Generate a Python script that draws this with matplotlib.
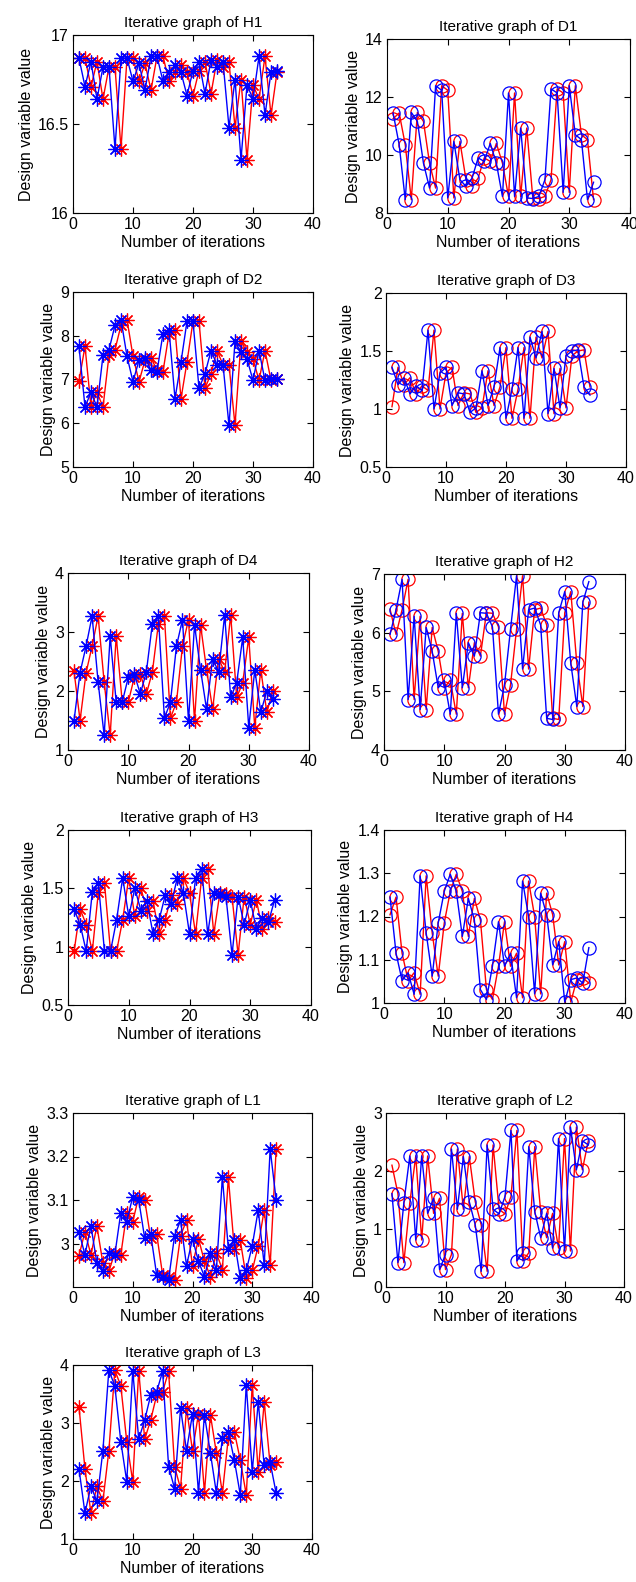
import matplotlib
matplotlib.use("Agg")
import matplotlib.pyplot as plt
from matplotlib.ticker import FormatStrFormatter

plt.rcParams['font.family'] = ['Liberation Sans', 'DejaVu Sans']
plt.rcParams['font.size'] = 11

# blue = current value, red = value of the previous iteration
H1_blue = [16.87, 16.71, 16.85, 16.64, 16.82, 16.82, 16.36, 16.87, 16.87, 16.74, 16.84, 16.69, 16.88, 16.88, 16.74, 16.79, 16.83,
           16.79, 16.66, 16.80, 16.85, 16.67, 16.86, 16.82, 16.85, 16.48, 16.75, 16.30, 16.72, 16.64, 16.88, 16.55, 16.79, 16.80]
H1_red = [16.87, 16.87, 16.71, 16.85, 16.64, 16.82, 16.82, 16.36, 16.87, 16.87, 16.74, 16.84, 16.69, 16.88, 16.88, 16.74, 16.79,
          16.83, 16.79, 16.66, 16.80, 16.85, 16.67, 16.86, 16.82, 16.85, 16.48, 16.75, 16.30, 16.72, 16.64, 16.88, 16.55, 16.79]

D1_blue = [11.45, 10.36, 8.46, 11.47, 11.16, 9.72, 8.86, 12.39, 12.23, 8.52, 10.47, 9.15, 8.92, 9.20, 9.90, 9.78, 10.40,
           9.72, 8.57, 12.14, 8.57, 10.93, 8.52, 8.50, 8.57, 9.15, 12.28, 12.14, 8.71, 12.39, 10.70, 10.53, 8.46, 9.06]
D1_red = [11.25, 11.45, 10.36, 8.46, 11.47, 11.16, 9.72, 8.86, 12.39, 12.23, 8.52, 10.47, 9.15, 8.92, 9.20, 9.90, 9.78,
          10.40, 9.72, 8.57, 12.14, 8.57, 10.93, 8.52, 8.50, 8.57, 9.15, 12.28, 12.14, 8.71, 12.39, 10.70, 10.53, 8.46]

D2_blue = [7.76, 6.37, 6.71, 6.37, 7.55, 7.68, 8.24, 8.37, 7.53, 6.95, 7.44, 7.50, 7.21, 7.18, 8.05, 8.14, 6.56,
           7.40, 8.33, 8.33, 6.80, 7.13, 7.66, 7.34, 7.34, 5.95, 7.87, 7.63, 7.47, 6.98, 7.66, 6.98, 7.02, 7.02]
D2_red = [6.96, 7.76, 6.37, 6.71, 6.37, 7.55, 7.68, 8.24, 8.37, 7.53, 6.95, 7.44, 7.50, 7.21, 7.18, 8.05, 8.14,
          6.56, 7.40, 8.33, 8.33, 6.80, 7.13, 7.66, 7.34, 7.34, 5.95, 7.87, 7.63, 7.47, 6.98, 7.66, 6.98, 7.02]

D3_blue = [1.36, 1.21, 1.27, 1.13, 1.20, 1.16, 1.68, 1.00, 1.31, 1.36, 1.03, 1.14, 1.13, 0.97, 1.01, 1.33, 1.03,
           1.19, 1.53, 0.92, 1.17, 1.53, 0.92, 1.62, 1.44, 1.67, 0.96, 1.35, 1.01, 1.46, 1.50, 1.51, 1.19, 1.12]
D3_red = [1.02, 1.36, 1.21, 1.27, 1.13, 1.20, 1.16, 1.68, 1.00, 1.31, 1.36, 1.03, 1.14, 1.13, 0.97, 1.01, 1.33,
          1.03, 1.19, 1.53, 0.92, 1.17, 1.53, 0.92, 1.62, 1.44, 1.67, 0.96, 1.35, 1.01, 1.46, 1.50, 1.51, 1.19]

D4_blue = [1.50, 2.31, 2.76, 3.27, 2.15, 1.25, 2.93, 1.81, 1.81, 2.23, 2.29, 1.95, 2.32, 3.14, 3.27, 1.54, 1.81,
           2.76, 3.21, 1.49, 3.12, 2.36, 1.69, 2.55, 2.32, 3.29, 1.89, 2.14, 2.91, 1.38, 2.36, 1.64, 2.00, 1.87]
D4_red = [2.34, 1.50, 2.31, 2.76, 3.27, 2.15, 1.25, 2.93, 1.81, 1.81, 2.23, 2.29, 1.95, 2.32, 3.14, 3.27, 1.54,
          1.81, 2.76, 3.21, 1.49, 3.12, 2.36, 1.69, 2.55, 2.32, 3.29, 1.89, 2.14, 2.91, 1.38, 2.36, 1.64, 2.00]

H2_blue = [5.97, 6.39, 6.91, 4.86, 6.28, 4.69, 6.09, 5.68, 5.06, 5.19, 4.61, 6.33, 5.06, 5.83, 5.60, 6.34, 6.33,
           6.10, 4.61, 5.11, 6.06, 6.97, 5.38, 6.39, 6.42, 6.13, 4.54, 4.52, 6.34, 6.70, 5.48, 4.74, 6.52, 6.87]
H2_red = [6.40, 5.97, 6.39, 6.91, 4.86, 6.28, 4.69, 6.09, 5.68, 5.06, 5.19, 4.61, 6.33, 5.06, 5.83, 5.60, 6.34,
          6.33, 6.10, 4.61, 5.11, 6.06, 6.97, 5.38, 6.39, 6.42, 6.13, 4.54, 4.52, 6.34, 6.70, 5.48, 4.74, 6.52]

H3_blue = [1.32, 1.19, 0.96, 1.47, 1.55, 0.96, 0.96, 1.23, 1.59, 1.26, 1.50, 1.31, 1.39, 1.11, 1.23, 1.44, 1.37,
           1.59, 1.46, 1.11, 1.59, 1.67, 1.11, 1.46, 1.45, 1.43, 0.93, 1.43, 1.19, 1.40, 1.15, 1.25, 1.21, 1.40]
H3_red = [0.96, 1.32, 1.19, 0.96, 1.47, 1.55, 0.96, 0.96, 1.23, 1.59, 1.26, 1.50, 1.31, 1.39, 1.11, 1.23, 1.44,
          1.37, 1.59, 1.46, 1.11, 1.59, 1.67, 1.11, 1.46, 1.45, 1.43, 0.93, 1.43, 1.19, 1.40, 1.15, 1.25, 1.21]

H4_blue = [1.245, 1.115, 1.052, 1.070, 1.020, 1.294, 1.162, 1.062, 1.185, 1.258, 1.298, 1.258, 1.154, 1.242, 1.192, 1.031, 1.008,
           1.085, 1.188, 1.085, 1.115, 1.012, 1.282, 1.200, 1.021, 1.254, 1.204, 1.088, 1.142, 1.002, 1.054, 1.058, 1.046, 1.128]
H4_red = [1.204, 1.245, 1.115, 1.052, 1.070, 1.020, 1.294, 1.162, 1.062, 1.185, 1.258, 1.298, 1.258, 1.154, 1.242, 1.192, 1.031,
          1.008, 1.085, 1.188, 1.085, 1.115, 1.012, 1.282, 1.200, 1.021, 1.254, 1.204, 1.088, 1.142, 1.002, 1.054, 1.058, 1.046]

L1_blue = [3.027, 2.974, 3.040, 2.955, 2.936, 2.979, 2.974, 3.071, 3.050, 3.108, 3.100, 3.012, 3.022, 2.928, 2.924, 2.917, 3.018,
           3.053, 2.949, 3.011, 2.959, 2.924, 2.978, 2.940, 3.152, 2.988, 3.007, 2.921, 2.938, 2.995, 3.077, 2.951, 3.217, 3.100]
L1_red = [2.972, 3.027, 2.974, 3.040, 2.955, 2.936, 2.979, 2.974, 3.071, 3.050, 3.108, 3.100, 3.012, 3.022, 2.928, 2.924, 2.917,
          3.018, 3.053, 2.949, 3.011, 2.959, 2.924, 2.978, 2.940, 3.152, 2.988, 3.007, 2.921, 2.938, 2.995, 3.077, 2.951, 3.217]

L2_blue = [1.61, 0.42, 1.45, 2.26, 0.81, 2.26, 1.27, 1.53, 0.30, 0.56, 2.38, 1.34, 2.25, 1.47, 1.07, 0.27, 2.45,
           1.34, 1.26, 1.56, 2.70, 0.45, 0.59, 2.42, 1.30, 0.85, 1.27, 0.67, 2.56, 0.62, 2.76, 2.02, 2.52, 2.45]
L2_red = [2.10, 1.61, 0.42, 1.45, 2.26, 0.81, 2.26, 1.27, 1.53, 0.30, 0.56, 2.38, 1.34, 2.25, 1.47, 1.07, 0.27,
          2.45, 1.34, 1.26, 1.56, 2.70, 0.45, 0.59, 2.42, 1.30, 0.85, 1.27, 0.67, 2.56, 0.62, 2.76, 2.02, 2.52]

L3_blue = [2.21, 1.45, 1.91, 1.65, 2.52, 3.91, 3.64, 2.68, 1.99, 3.90, 2.72, 3.05, 3.48, 3.54, 3.89, 2.25, 1.87,
           3.26, 2.52, 3.16, 1.80, 3.14, 2.48, 1.79, 2.75, 2.85, 2.36, 1.76, 3.66, 2.16, 3.36, 2.27, 2.32, 1.79]
L3_red = [3.28, 2.21, 1.45, 1.91, 1.65, 2.52, 3.91, 3.64, 2.68, 1.99, 3.90, 2.72, 3.05, 3.48, 3.54, 3.89, 2.25,
          1.87, 3.26, 2.52, 3.16, 1.80, 3.14, 2.48, 1.79, 2.75, 2.85, 2.36, 1.76, 3.66, 2.16, 3.36, 2.27, 2.32]

W, H = 636, 1582
ASTER = (8, 2, 0)

# name, blue, red, marker, y ticks, axes box in pixels (left, top, right, bottom)
panels = [
    ("H1", H1_blue, H1_red, ASTER, [16, 16.5, 17], (73, 35, 313, 213)),
    ("D1", D1_blue, D1_red, "o", [8, 10, 12, 14], (387, 39, 630, 213)),
    ("D2", D2_blue, D2_red, ASTER, [5, 6, 7, 8, 9], (73, 292, 313, 467)),
    ("D3", D3_blue, D3_red, "o", [0.5, 1, 1.5, 2], (386, 293, 626, 467)),
    ("D4", D4_blue, D4_red, ASTER, [1, 2, 3, 4], (68, 573, 309, 750)),
    ("H2", H2_blue, H2_red, "o", [4, 5, 6, 7], (384, 574, 625, 750)),
    ("H3", H3_blue, H3_red, ASTER, [0.5, 1, 1.5, 2], (68, 830, 311, 1005)),
    ("H4", H4_blue, H4_red, "o", [1, 1.1, 1.2, 1.3, 1.4], (384, 830, 625, 1003)),
    ("L1", L1_blue, L1_red, ASTER, [3, 3.1, 3.2, 3.3], (73, 1113, 312, 1287)),
    ("L2", L2_blue, L2_red, "o", [0, 1, 2, 3], (386, 1113, 624, 1287)),
    ("L3", L3_blue, L3_red, ASTER, [1, 2, 3, 4], (73, 1365, 312, 1539)),
]

fig = plt.figure(figsize=(W / 100, H / 100), dpi=100)

for name, blue, red, mk, yt, (l, t, r, b) in panels:
    ax = fig.add_axes([l / W, 1 - b / H, (r - l) / W, (b - t) / H])
    ms = 9.5 if mk == "o" else 10
    ax.plot(range(1, len(red) + 1), red, color="red", lw=1.0, marker=mk, ms=ms, mew=0.9, mfc="none")
    ax.plot(range(1, len(blue) + 1), blue, color="blue", lw=1.0, marker=mk, ms=ms, mew=0.9, mfc="none")
    ax.set_xlim(0, 40)
    ax.set_xticks([0, 10, 20, 30, 40])
    ax.set_ylim(2.9 if name == "L1" else yt[0], yt[-1])
    ax.set_yticks(yt)
    ax.yaxis.set_major_formatter(FormatStrFormatter('%g'))
    ax.tick_params(direction="in", top=True, right=True, length=4, labelsize=11.5, pad=3)
    ax.set_title("Iterative graph of " + name, fontsize=11, pad=6)
    ax.set_xlabel("Number of iterations", fontsize=11.5, labelpad=2)
    ax.set_ylabel("Design variable value", fontsize=11.5, labelpad=3)

fig.savefig("out.png", dpi=100)
